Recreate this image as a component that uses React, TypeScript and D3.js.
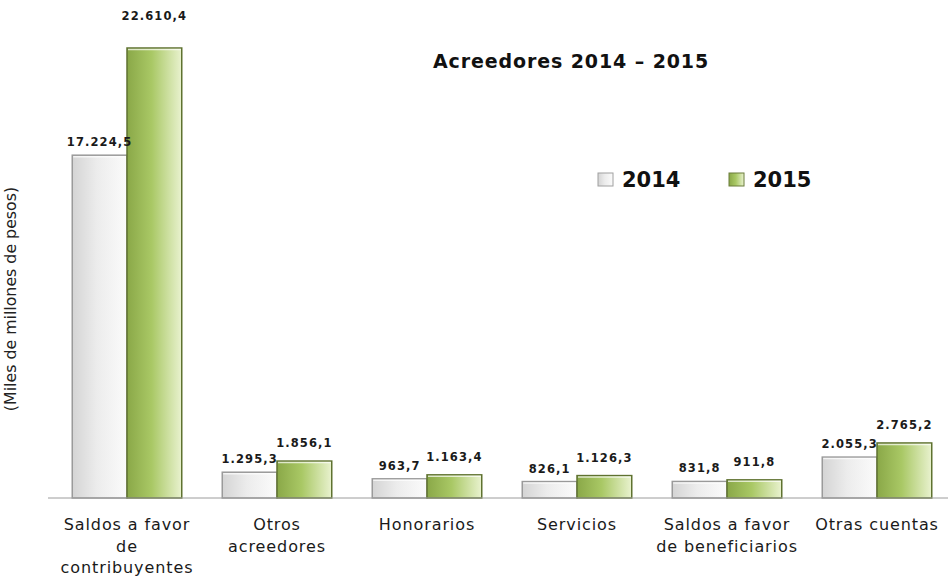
import React from 'react';
import * as d3 from 'd3';

const categories = [
  ['Saldos a favor', 'de', 'contribuyentes'],
  ['Otros', 'acreedores'],
  ['Honorarios'],
  ['Servicios'],
  ['Saldos a favor', 'de beneficiarios'],
  ['Otras cuentas'],
];
const series = ['2014', '2015'];
const values2014 = [17224.5, 1295.3, 963.7, 826.1, 831.8, 2055.3];
const values2015 = [22610.4, 1856.1, 1163.4, 1126.3, 911.8, 2765.2];

const W = 948;
const H = 578;
const baseY = 498;

// spanish number format: 17.224,5
const fmt = d3.formatLocale({ decimal: ',', thousands: '.', grouping: [3], currency: ['$', ''] }).format(',.1f');

export default function App() {
  const x0 = d3.scaleBand<number>()
    .domain(d3.range(categories.length))
    .range([52, 952])
    .paddingInner(0.27)
    .paddingOuter(0.135);
  const x1 = d3.scaleBand<string>()
    .domain(series)
    .range([0, x0.bandwidth()]);
  const y = d3.scaleLinear()
    .domain([0, 22610.4])
    .range([baseY, 48]);

  const data = [values2014, values2015];

  return (
    <svg width={W} height={H} style={{ position: 'absolute', left: 0, top: 0, background: '#fff' }}>
      <defs>
        <linearGradient id="g2014" x1="0" x2="1" y1="0" y2="0">
          <stop offset="0%" stopColor="#d4d4d4" />
          <stop offset="45%" stopColor="#ececec" />
          <stop offset="100%" stopColor="#fbfbfb" />
        </linearGradient>
        <linearGradient id="g2015" x1="0" x2="1" y1="0" y2="0">
          <stop offset="0%" stopColor="#8aa848" />
          <stop offset="45%" stopColor="#a9c865" />
          <stop offset="100%" stopColor="#e9f2cf" />
        </linearGradient>
      </defs>

      {/* bars */}
      {data.map((vals, si) =>
        vals.map((v, i) => {
          const bx = x0(i)! + x1(series[si])!;
          const top = y(v);
          return (
            <g key={`${si}-${i}`}>
              <rect x={bx} y={top} width={x1.bandwidth()} height={baseY - top}
                fill={`url(#g${series[si]})`}
                stroke={si === 0 ? '#9a9a9a' : '#5f7230'} strokeWidth={1.5} />
              <line x1={bx + 1} x2={bx + x1.bandwidth() - 1} y1={top + 1.5} y2={top + 1.5}
                stroke="#fff" strokeOpacity={0.7} strokeWidth={1.5} />
            </g>
          );
        })
      )}

      {/* axis line */}
      <line x1={48} x2={948} y1={baseY} y2={baseY} stroke="#9c9c9c" strokeWidth={1} />

      {/* value labels */}
      {data.map((vals, si) =>
        vals.map((v, i) => {
          const cx = x0(i)! + x1(series[si])! + x1.bandwidth() / 2;
          const off = si === 0 ? 9 : (v > 20000 ? 28 : 14);
          return (
            <text key={`l${si}-${i}`} x={cx} y={y(v) - off} textAnchor="middle"
              fontFamily="DejaVu Sans" fontWeight="bold" fontSize={11.5} letterSpacing={1.1} fill="#1a1a1a">
              {fmt(v)}
            </text>
          );
        })
      )}

      {/* category labels */}
      {categories.map((lines, i) => (
        <text key={`c${i}`} x={x0(i)! + x0.bandwidth() / 2} y={530} textAnchor="middle"
          fontFamily="DejaVu Sans" fontSize={16} letterSpacing={0.9} fill="#1a1a1a">
          {lines.map((ln, k) => (
            <tspan key={k} x={x0(i)! + x0.bandwidth() / 2} dy={k === 0 ? 0 : 21.5}>{ln}</tspan>
          ))}
        </text>
      ))}

      {/* y axis title */}
      <text transform="translate(16,299) rotate(-90)" textAnchor="middle"
        fontFamily="DejaVu Sans" fontSize={15.8} fill="#222">
        (Miles de millones de pesos)
      </text>

      {/* chart title */}
      <text x={571} y={68} textAnchor="middle" fontFamily="DejaVu Sans" fontWeight="bold"
        fontSize={19} letterSpacing={0.9} fill="#111">
        Acreedores 2014 – 2015
      </text>

      {/* legend */}
      {series.map((s, i) => {
        const lx = i === 0 ? 598 : 729;
        return (
          <g key={`lg${s}`}>
            <rect x={lx} y={173} width={15} height={13} fill={`url(#g${s})`}
              stroke={i === 0 ? '#a0a0a0' : '#6b7d3a'} strokeWidth={1} />
            <text x={lx + 24} y={187} fontFamily="DejaVu Sans" fontWeight="bold" fontSize={21} fill="#111">
              {s}
            </text>
          </g>
        );
      })}
    </svg>
  );
}
